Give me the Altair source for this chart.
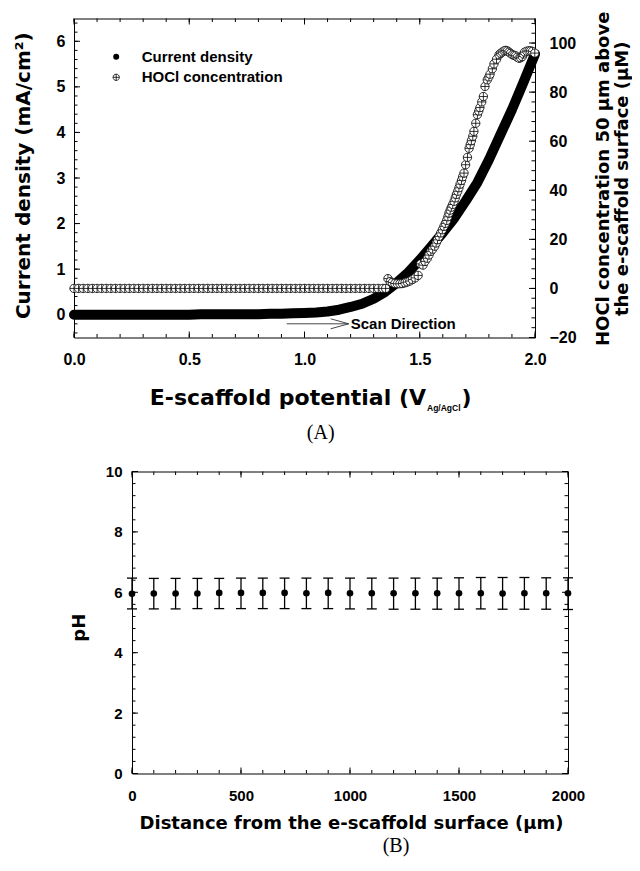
import altair as alt
import pandas as pd

# ---------------- Panel A data ----------------
cd_potential = [0.00, 0.05, 0.10, 0.15, 0.20, 0.25, 0.30, 0.35, 0.40, 0.45, 0.50,
                0.55, 0.60, 0.65, 0.70, 0.75, 0.80, 0.85, 0.90, 0.95, 1.00,
                1.05, 1.10, 1.15, 1.20, 1.25, 1.30, 1.35, 1.40, 1.45, 1.50,
                1.55, 1.60, 1.65, 1.70, 1.75, 1.80, 1.85, 1.90, 1.95, 2.00]
cd_current = [0.00, 0.00, 0.00, 0.00, 0.00, 0.00, 0.00, 0.00, 0.00, 0.00, 0.00,
              0.01, 0.01, 0.01, 0.01, 0.01, 0.01, 0.02, 0.02, 0.03, 0.04,
              0.05, 0.07, 0.11, 0.17, 0.24, 0.35, 0.50, 0.70, 0.93, 1.20,
              1.50, 1.80, 2.12, 2.50, 2.90, 3.40, 3.95, 4.50, 5.10, 5.72]

hocl_potential = [0.00, 0.02, 0.04, 0.06, 0.08, 0.10, 0.12, 0.14, 0.16, 0.18,
                  0.20, 0.22, 0.24, 0.26, 0.28, 0.30, 0.32, 0.34, 0.36, 0.38,
                  0.40, 0.42, 0.44, 0.46, 0.48, 0.50, 0.52, 0.54, 0.56, 0.58,
                  0.60, 0.62, 0.64, 0.66, 0.68, 0.70, 0.72, 0.74, 0.76, 0.78,
                  0.80, 0.82, 0.84, 0.86, 0.88, 0.90, 0.92, 0.94, 0.96, 0.98,
                  1.00, 1.02, 1.04, 1.06, 1.08, 1.10, 1.12, 1.14, 1.16, 1.18,
                  1.20, 1.22, 1.24, 1.26, 1.28, 1.30, 1.32, 1.34, 1.352,
                  1.362, 1.372, 1.381, 1.392, 1.403, 1.414, 1.425, 1.436, 1.446, 1.457,
                  1.468, 1.480, 1.493, 1.504, 1.514, 1.523, 1.533, 1.540, 1.548, 1.556,
                  1.565, 1.571, 1.577, 1.584, 1.591, 1.598, 1.605, 1.611, 1.617, 1.622,
                  1.627, 1.632, 1.637, 1.643, 1.649, 1.654, 1.659, 1.665, 1.670, 1.675,
                  1.681, 1.686, 1.692, 1.699, 1.707, 1.714, 1.719, 1.724, 1.730, 1.735,
                  1.743, 1.750, 1.756, 1.761, 1.769, 1.776, 1.783, 1.793, 1.800, 1.805,
                  1.815, 1.822, 1.833, 1.844, 1.851, 1.858, 1.866, 1.873, 1.880, 1.887,
                  1.894, 1.902, 1.909, 1.916, 1.923, 1.931, 1.938, 1.945, 1.950, 1.955,
                  1.965, 1.974, 1.981, 1.989, 1.999]
hocl_conc = [0, 0, 0, 0, 0, 0, 0, 0, 0, 0,
             0, 0, 0, 0, 0, 0, 0, 0, 0, 0,
             0, 0, 0, 0, 0, 0, 0, 0, 0, 0,
             0, 0, 0, 0, 0, 0, 0, 0, 0, 0,
             0, 0, 0, 0, 0, 0, 0, 0, 0, 0,
             0, 0, 0, 0, 0, 0, 0, 0, 0, 0,
             0, 0, 0, 0, 0, 0, 0, 0, 0,
             4.0, 2.8, 2.4, 2.0, 1.9, 1.9, 2.0, 2.3, 2.6, 3.0,
             3.6, 4.3, 5.3, 10.0, 9.5, 11.0, 12.3, 13.6, 15.1, 16.0,
             17.2, 18.5, 19.8, 21.2, 22.6, 23.9, 25.3, 26.5, 27.7, 29.2,
             30.7, 31.9, 33.1, 34.2, 35.5, 36.9, 38.3, 39.6, 41.0, 42.5,
             44.0, 45.5, 47.0, 50.4, 53.4, 57.1, 58.6, 60.2, 62.0, 64.0,
             67.3, 70.8, 72.3, 73.7, 76.0, 78.2, 82.3, 85.0, 86.2, 87.3,
             89.5, 91.5, 93.4, 95.2, 95.8, 96.3, 96.8, 97.0, 96.8, 96.3,
             95.8, 95.2, 95.0, 94.8, 94.2, 93.8, 94.0, 94.5, 95.5, 96.3,
             96.7, 96.8, 96.8, 96.6, 95.9]

# ---------------- Panel B data ----------------
distance = [0, 100, 200, 300, 400, 500, 600, 700, 800, 900, 1000,
            1100, 1200, 1300, 1400, 1500, 1600, 1700, 1800, 1900, 2000]
ph_mean = [5.95, 5.96, 5.96, 5.96, 5.98, 5.98, 5.98, 5.98, 5.97, 5.98, 5.97,
           5.97, 5.97, 5.97, 5.97, 5.97, 5.97, 5.96, 5.97, 5.97, 5.97]
ph_low = [5.45, 5.45, 5.45, 5.46, 5.46, 5.46, 5.46, 5.46, 5.46, 5.46, 5.45,
          5.45, 5.44, 5.44, 5.44, 5.44, 5.45, 5.44, 5.44, 5.44, 5.43]
ph_high = [6.47, 6.46, 6.46, 6.46, 6.46, 6.47, 6.47, 6.47, 6.47, 6.47, 6.47,
           6.47, 6.47, 6.47, 6.47, 6.48, 6.49, 6.49, 6.49, 6.48, 6.48]

# ---------------- tick values ----------------
a_x_major = [0.0, 0.5, 1.0, 1.5, 2.0]
a_x_minor = [round(0.1 * i, 1) for i in range(21)]
a_yl_major = [0, 1, 2, 3, 4, 5, 6]
a_yl_minor = [round(-0.4 + 0.2 * i, 1) for i in range(35)]
a_yr_major = [-20, 0, 20, 40, 60, 80, 100]
a_yr_minor = [-16 + 4 * i for i in range(32)]
b_x_major = [0, 500, 1000, 1500, 2000]
b_x_minor = [100 * i for i in range(21)]
b_y_major = [0, 2, 4, 6, 8, 10]
b_y_minor = [round(0.4 * i, 1) for i in range(26)]

SANS = "Liberation Sans"
TITLE = "DejaVu Sans"
SERIF = "Liberation Serif"
OPLUS = "M-1,0A1,1,0,1,1,1,0A1,1,0,1,1,-1,0Z M-1,0L1,0 M0,-1L0,1"

W1, H1 = 461, 319
W2, H2 = 436, 302
MAJ, MIN = 6, 3.5

LBL = dict(ticks=False, tickSize=0, domain=False, grid=False, labelFont=SANS,
           labelFontWeight="bold", labelColor="black")
TTL = dict(titleFont=TITLE, titleFontWeight="bold", titleColor="black",
           titleAlign="center", titleBaseline="middle")

# ---------------- scales & axes ----------------
XA, YL, YR = (0, 2), (-0.5, 6.5), (-20, 110)
XB, YB = (0, 2000), (0, 10)
xs = alt.Scale(domain=list(XA), nice=False, zero=False)
yl = alt.Scale(domain=list(YL), nice=False, zero=False)
yr = alt.Scale(domain=list(YR), nice=False, zero=False)
ax_a_x = alt.Axis(values=a_x_major, format=".1f", labelFontSize=16, labelPadding=14,
                  labelFlush=False, title=None, **LBL)
ax_a_yl = alt.Axis(orient="left", values=a_yl_major, labelFontSize=16, labelPadding=9,
                   title="Current density (mA/cm²)", titleFontSize=20, titleAngle=270,
                   titleX=-51, titleY=156.7, **LBL, **TTL)
ax_a_yr = alt.Axis(orient="right", values=a_yr_major, labelFontSize=16, labelPadding=14,
                   title=["HOCl concentration 50 μm above", "the e-scaffold surface (μM)"],
                   titleFontSize=18, titleAngle=270, titleX=68.5, titleY=159.8,
                   titleLineHeight=18.5, **LBL, **TTL)

xs2 = alt.Scale(domain=list(XB), nice=False, zero=False)
ys2 = alt.Scale(domain=list(YB), nice=False, zero=False)
ax_b_x = alt.Axis(values=b_x_major, format="d", labelFontSize=15, labelPadding=15,
                  labelFlush=False,
                  title="Distance from the e-scaffold surface (μm)", titleFontSize=18,
                  titleX=219, titleY=50, **LBL, **TTL)
ax_b_y = alt.Axis(orient="left", values=b_y_major, labelFontSize=15, labelPadding=10,
                  title="pH", titleFontSize=18, titleAngle=270, titleX=-53, titleY=155.7,
                  **LBL, **TTL)


def seg(x0, y0, x1, y1, color="black", width=1.0):
    return alt.Chart(pd.DataFrame({"a": [0]})).mark_rule(color=color, strokeWidth=width).encode(
        x=alt.value(x0), y=alt.value(y0), x2=alt.value(x1), y2=alt.value(y1))


def edge_ticks_y(vals, dom, h, w, right, length):
    """inward ticks on a vertical frame edge, one rule per tick value"""
    out = []
    for v in vals:
        p = h * (dom[1] - v) / (dom[1] - dom[0])
        if right:
            out.append(seg(w, p, w - length, p))
        else:
            out.append(seg(0, p, length, p))
    return out


def field_ticks_x(vals, xscale, xaxis, yscale, yaxis, ydom, h, top, length):
    """inward ticks on a horizontal frame edge, drawn through the panel's scales"""
    d = (ydom[1] - ydom[0]) * length / h
    a = ydom[1] if top else ydom[0]
    b = a - d if top else a + d
    df = pd.DataFrame({"t": vals, "a": [a] * len(vals), "b": [b] * len(vals)})
    return alt.Chart(df).mark_rule(color="black", strokeWidth=1).encode(
        x=alt.X("t:Q", scale=xscale, axis=xaxis),
        y=alt.Y("a:Q", scale=yscale, axis=yaxis), y2="b:Q")


def label(text, x, y, font, size, weight="bold", align="left", baseline="middle"):
    return alt.Chart(pd.DataFrame({"s": [text]})).mark_text(
        font=font, fontSize=size, fontWeight=weight, align=align, baseline=baseline, color="black"
    ).encode(x=alt.value(x), y=alt.value(y), text="s:N")


# ---------------- Panel A ----------------
cd_df = pd.DataFrame({"V": cd_potential, "J": cd_current})
hocl_df = pd.DataFrame({"V": hocl_potential, "C": hocl_conc})

cd_line = alt.Chart(cd_df).mark_line(
    color="black", strokeWidth=10, strokeCap="round", strokeJoin="round"
).encode(
    x=alt.X("V:Q", scale=xs, axis=ax_a_x),
    y=alt.Y("J:Q", scale=yl, axis=ax_a_yl),
)

hocl_pts = alt.Chart(hocl_df).mark_point(
    shape=OPLUS, size=70, filled=True, fill="white", stroke="black", strokeWidth=0.8, opacity=1
).encode(
    x=alt.X("V:Q", scale=xs, axis=ax_a_x),
    y=alt.Y("C:Q", scale=yr, axis=ax_a_yr),
)

legend_dot = alt.Chart(pd.DataFrame({"a": [0]})).mark_point(
    shape="circle", filled=True, color="black", size=36, opacity=1
).encode(x=alt.value(42.2), y=alt.value(38.3))
legend_oplus = alt.Chart(pd.DataFrame({"a": [0]})).mark_point(
    shape=OPLUS, size=40, filled=True, fill="white", stroke="black", strokeWidth=0.8, opacity=1
).encode(x=alt.value(42.2), y=alt.value(58.8))

left_group = alt.layer(
    cd_line,
    field_ticks_x(a_x_minor, xs, ax_a_x, yl, ax_a_yl, YL, H1, False, MIN),
    field_ticks_x(a_x_major, xs, ax_a_x, yl, ax_a_yl, YL, H1, False, MAJ),
    field_ticks_x(a_x_minor, xs, ax_a_x, yl, ax_a_yl, YL, H1, True, MIN),
    field_ticks_x(a_x_major, xs, ax_a_x, yl, ax_a_yl, YL, H1, True, MAJ),
    *edge_ticks_y(a_yl_minor, YL, H1, W1, False, MIN),
    *edge_ticks_y(a_yl_major, YL, H1, W1, False, MAJ),
    *edge_ticks_y(a_yr_minor, YR, H1, W1, True, MIN),
    *edge_ticks_y(a_yr_major, YR, H1, W1, True, MAJ),
    legend_dot, legend_oplus,
    label("Current density", 67.7, 38.3, SANS, 15),
    label("HOCl concentration", 67.7, 58.8, SANS, 15),
    seg(212.7, 305.3, 274.7, 305.3, "#333333", 0.9),
    seg(256.7, 300.3, 274.7, 305.3, "#333333", 0.9),
    seg(256.7, 310.3, 274.7, 305.3, "#333333", 0.9),
    label("Scan Direction", 276.7, 305.3, SANS, 15),
    label("E-scaffold potential (V", 352, 386.6, TITLE, 22, align="right", baseline="alphabetic"),
    label("Ag/AgCl", 353, 392, SANS, 8.5, align="left", baseline="alphabetic"),
    label(")", 387.5, 386.6, TITLE, 22, align="left", baseline="alphabetic"),
    label("(A)", 246.7, 414.3, SERIF, 20, weight="normal", align="center"),
)
right_group = alt.layer(hocl_pts)
panel_a = alt.layer(left_group, right_group).resolve_scale(y="independent").properties(
    width=W1, height=H1)

# ---------------- Panel B ----------------
ph_df = pd.DataFrame({"d": distance, "m": ph_mean, "lo": ph_low, "hi": ph_high})

err = alt.Chart(ph_df).mark_rule(color="black", strokeWidth=1.3).encode(
    x=alt.X("d:Q", scale=xs2, axis=ax_b_x),
    y=alt.Y("lo:Q", scale=ys2, axis=ax_b_y),
    y2="hi:Q",
)
cap_lo = alt.Chart(ph_df).mark_point(shape="stroke", size=100, filled=False, color="black",
                                     strokeWidth=1.3, opacity=1).encode(
    x=alt.X("d:Q", scale=xs2, axis=ax_b_x), y=alt.Y("lo:Q", scale=ys2, axis=ax_b_y))
cap_hi = alt.Chart(ph_df).mark_point(shape="stroke", size=100, filled=False, color="black",
                                     strokeWidth=1.3, opacity=1).encode(
    x=alt.X("d:Q", scale=xs2, axis=ax_b_x), y=alt.Y("hi:Q", scale=ys2, axis=ax_b_y))
ph_pts = alt.Chart(ph_df).mark_point(shape="circle", filled=True, color="black", size=44,
                                     opacity=1).encode(
    x=alt.X("d:Q", scale=xs2, axis=ax_b_x), y=alt.Y("m:Q", scale=ys2, axis=ax_b_y))

panel_b = alt.layer(
    err, cap_lo, cap_hi, ph_pts,
    field_ticks_x(b_x_minor, xs2, ax_b_x, ys2, ax_b_y, YB, H2, False, MIN),
    field_ticks_x(b_x_major, xs2, ax_b_x, ys2, ax_b_y, YB, H2, False, MAJ),
    field_ticks_x(b_x_minor, xs2, ax_b_x, ys2, ax_b_y, YB, H2, True, MIN),
    field_ticks_x(b_x_major, xs2, ax_b_x, ys2, ax_b_y, YB, H2, True, MAJ),
    *edge_ticks_y(b_y_minor, YB, H2, W2, False, MIN),
    *edge_ticks_y(b_y_major, YB, H2, W2, False, MAJ),
    *edge_ticks_y(b_y_minor, YB, H2, W2, True, MIN),
    *edge_ticks_y(b_y_major, YB, H2, W2, True, MAJ),
    label("(B)", 264, 374, SERIF, 20, weight="normal", align="center"),
).properties(width=W2, height=H2)

spacer = alt.Chart(pd.DataFrame({"a": [0]})).mark_point(opacity=0).encode(
    x=alt.value(0), y=alt.value(0)
).properties(width=57.7, height=10, view=alt.ViewBackground(strokeOpacity=0))

chart = alt.vconcat(
    panel_a, alt.hconcat(spacer, panel_b, spacing=0, bounds="flush"), spacing=20
).properties(
    padding={"left": 4, "top": 2.5, "right": 0, "bottom": 0}
).configure(background="white").configure_view(stroke="black", strokeWidth=1)

chart.save("out.html", embed_options={"renderer": "svg", "actions": False})
